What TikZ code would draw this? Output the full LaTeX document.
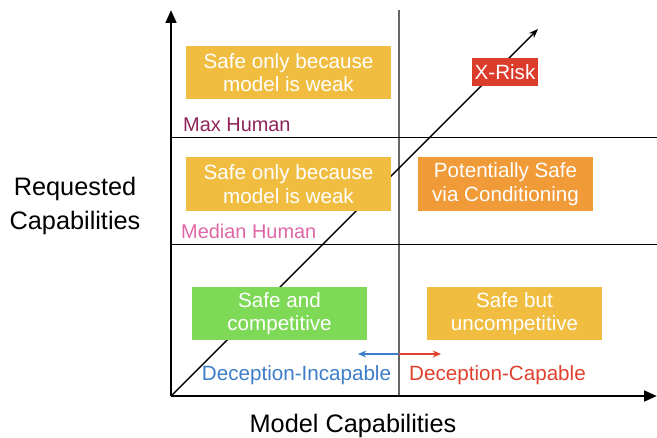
\documentclass[tikz,border=0pt]{standalone}
\usepackage{fontspec}
\setmainfont{Liberation Sans}
\usepackage{xcolor}
\usetikzlibrary{arrows.meta}
\definecolor{weakyellow}{HTML}{F0BD41}
\definecolor{safegreen}{HTML}{7ED957}
\definecolor{condorange}{HTML}{F09A38}
\definecolor{riskred}{HTML}{DC3C2C}
\definecolor{incapblue}{HTML}{3D7CC9}
\definecolor{capred}{HTML}{E0402E}
\definecolor{maxmaroon}{HTML}{8E2458}
\definecolor{medianpink}{HTML}{E066A6}
\tikzset{
    region/.style = {rectangle, minimum width=175*0.03cm, minimum height=53*0.03cm, inner sep=0pt, text centered, align=center, text=white, font=\fontsize{17.6}{20}\selectfont},
    axis/.style = {line width=2.4pt, -{Triangle[length=11pt,width=9pt]}},
    level/.style = {line width=0.8pt},
    tag/.style = {inner sep=0pt, font=\fontsize{17}{20}\selectfont},
    pointer/.style = {line width=1pt, -{Stealth[length=7pt,width=6pt]}}
}
\begin{document}
\begin{tikzpicture}[x=0.03cm, y=-0.03cm]
\useasboundingbox (0,0) rectangle (657,437);
% axes and grid
\coordinate (origin) at (171,396);
\coordinate (ytip) at (171,10);
\coordinate (xtip) at (657,396);
\coordinate (splittop) at (399,10);
\coordinate (splitbot) at (399,396);
\coordinate (maxl) at (171,137);
\coordinate (maxr) at (657,137);
\coordinate (medl) at (171,244);
\coordinate (medr) at (657,244);
\coordinate (diagtip) at (538,29);
\draw [line width=1pt, black!60] (splittop) -- (splitbot);
\draw [level] (maxl) -- (maxr);
\draw [level] (medl) -- (medr);
\draw [line width=1.2pt, -{Stealth[length=8pt,width=6pt]}] (origin) -- (diagtip);
\draw [axis] (origin) -- (ytip);
\draw [axis] (origin) -- (xtip);

% regions
\node (weaktop) [region, fill=weakyellow, minimum width=205*0.03cm] at (288.5,72.5) {Safe only because\\model is weak};
\node (xrisk) [region, fill=riskred, minimum width=66*0.03cm, minimum height=28*0.03cm] at (505,72) {X-Risk};
\node (weakmid) [region, fill=weakyellow, minimum width=205*0.03cm, minimum height=54*0.03cm] at (288.5,184) {Safe only because\\model is weak};
\node (cond) [region, fill=condorange, minimum height=54*0.03cm] at (505.5,184) {Potentially Safe\\via Conditioning};
\node (compet) [region, fill=safegreen] at (279.5,313.5) {Safe and\\competitive};
\node (uncompet) [region, fill=weakyellow] at (514.5,313.5) {Safe but\\uncompetitive};

% labels
\node (maxhuman) [tag, text=maxmaroon, anchor=west] at (183,125) {Max Human};
\node (medhuman) [tag, text=medianpink, anchor=west] at (181,231) {Median Human};
\node (incap) [tag, text=incapblue, anchor=center, font=\fontsize{17.6}{20}\selectfont] at (296.5,375) {Deception-Incapable};
\node (cap) [tag, text=capred, anchor=center, font=\fontsize{17.6}{20}\selectfont] at (497.5,375) {Deception-Capable};
\node (xlabel) [tag, anchor=center, font=\fontsize{21.6}{26}\selectfont] at (353,426) {Model Capabilities};
\node (ylabel) [tag, anchor=center, align=center, font=\fontsize{21.6}{28.5}\selectfont] at (75,206) {Requested\\Capabilities};

% deception arrows
\coordinate (split) at (399,354);
\coordinate (leftend) at (358,354);
\coordinate (rightend) at (441,354);
\draw [pointer, incapblue] (split) -- (leftend);
\draw [pointer, capred] (split) -- (rightend);
\end{tikzpicture}
\end{document}
